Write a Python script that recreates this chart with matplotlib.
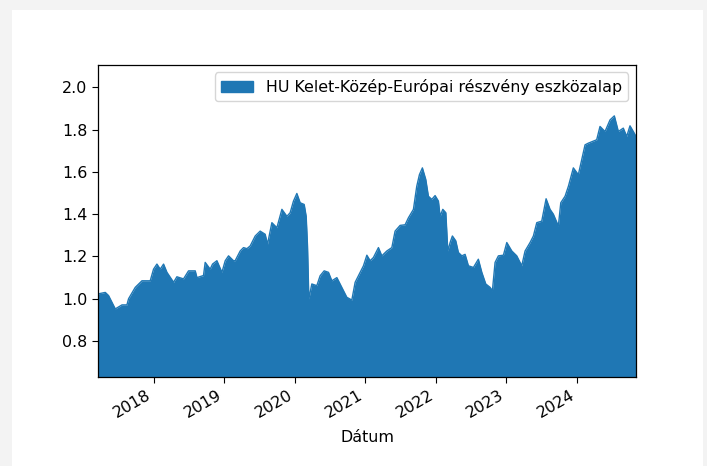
import numpy as np
import pandas as pd
import matplotlib
matplotlib.use("Agg")
import matplotlib.pyplot as plt
from matplotlib.patches import Patch, Rectangle

# dates as decimal years
years = [
    2017.21, 2017.313, 2017.36, 2017.455, 2017.55, 2017.62, 2017.643, 2017.738,
    2017.833, 2017.95, 2017.997, 2018.045, 2018.092, 2018.139, 2018.187, 2018.281,
    2018.328, 2018.422, 2018.493, 2018.588, 2018.612, 2018.705, 2018.729, 2018.80,
    2018.833, 2018.895, 2018.966, 2019.013, 2019.06, 2019.13,
    2019.154, 2019.225, 2019.272, 2019.32, 2019.367, 2019.438, 2019.508, 2019.579,
    2019.612, 2019.674, 2019.745, 2019.816, 2019.887, 2019.933, 2019.98, 2020.028,
    2020.075, 2020.132, 2020.16, 2020.179, 2020.198, 2020.24, 2020.311, 2020.358,
    2020.415, 2020.476, 2020.524, 2020.595, 2020.665, 2020.736, 2020.807, 2020.854,
    2020.925, 2020.972,
    2021.02, 2021.067, 2021.113, 2021.184, 2021.232, 2021.303, 2021.374, 2021.42,
    2021.491, 2021.562, 2021.609, 2021.68, 2021.727, 2021.765, 2021.807, 2021.855,
    2021.892, 2021.94, 2021.987, 2022.034, 2022.058, 2022.096, 2022.139, 2022.167,
    2022.2, 2022.232, 2022.28, 2022.317, 2022.366, 2022.412, 2022.459, 2022.53,
    2022.60, 2022.649, 2022.705, 2022.766, 2022.799, 2022.837, 2022.884, 2022.955,
    2023.003, 2023.074, 2023.144, 2023.215, 2023.262, 2023.333, 2023.38, 2023.428,
    2023.498, 2023.56, 2023.616, 2023.663, 2023.734, 2023.768, 2023.829, 2023.876,
    2023.946, 2024.017, 2024.065, 2024.112, 2024.159, 2024.277, 2024.324, 2024.395,
    2024.466, 2024.527, 2024.584, 2024.654, 2024.702, 2024.749, 2024.796, 2024.834,
]
values = [
    1.023, 1.03, 1.015, 0.952, 0.971, 0.971, 1.0, 1.054,
    1.085, 1.085, 1.14, 1.164, 1.14, 1.164, 1.125, 1.078,
    1.104, 1.094, 1.132, 1.132, 1.10, 1.11, 1.172, 1.14,
    1.164, 1.18, 1.125, 1.18, 1.203, 1.18,
    1.18, 1.226, 1.242, 1.237, 1.25, 1.297, 1.32, 1.305,
    1.258, 1.36, 1.336, 1.423, 1.39, 1.407, 1.462, 1.498,
    1.454, 1.446, 1.39, 1.25, 0.999, 1.07, 1.062, 1.109,
    1.132, 1.125, 1.085, 1.10, 1.054, 1.007, 0.994, 1.078,
    1.125, 1.156,
    1.206, 1.18, 1.195, 1.242, 1.203, 1.226, 1.242, 1.32,
    1.347, 1.35, 1.383, 1.423, 1.532, 1.587, 1.619, 1.564,
    1.485, 1.47, 1.488, 1.462, 1.39, 1.423, 1.407, 1.226,
    1.266, 1.297, 1.274, 1.219, 1.203, 1.21, 1.156, 1.148,
    1.187, 1.125, 1.07, 1.054, 1.038, 1.172, 1.203, 1.206,
    1.266, 1.226, 1.203, 1.156, 1.226, 1.266, 1.297, 1.36,
    1.367, 1.473, 1.423, 1.40, 1.344, 1.454, 1.485, 1.532,
    1.619, 1.587, 1.658, 1.728, 1.736, 1.752, 1.815, 1.791,
    1.846, 1.865, 1.791, 1.807, 1.768, 1.818, 1.791, 1.768,
]
label = "HU Kelet-Közép-Európai részvény eszközalap"
yticks = [0.8, 1.0, 1.2, 1.4, 1.6, 1.8, 2.0]

plt.rcParams["font.size"] = 11.4
plt.rcParams["xtick.major.size"] = 4
plt.rcParams["ytick.major.size"] = 4
plt.rcParams["axes.linewidth"] = 0.9

yr = np.array(years)
dates = pd.Timestamp("2017-01-01") + pd.to_timedelta((yr - 2017) * 365.25, unit="D")

fig = plt.figure(figsize=(7.07, 4.66), dpi=100, facecolor="#f3f3f3")
fig.patches.append(Rectangle((12 / 707, 0), 691 / 707, 456 / 466,
                             transform=fig.transFigure, facecolor="white",
                             edgecolor="none", zorder=-10))
ax = fig.add_axes([98 / 707, 89 / 466, 538 / 707, 312.5 / 466])

ax.fill_between(dates, values, 0, color="C0", linewidth=0)
ax.plot(dates, values, color="C0", lw=1)
ax.set_xlim(dates[0], dates[-1])
ax.set_ylim(0.63, 2.108)
ax.set_yticks(yticks)
ax.set_xlabel("Dátum", labelpad=7)
ax.legend(handles=[Patch(color="C0", label=label)], loc="upper right")

for t in ax.get_xticklabels():
    t.set_rotation(30)
    t.set_ha("right")

fig.savefig("out.png", dpi=100, facecolor=fig.get_facecolor())
